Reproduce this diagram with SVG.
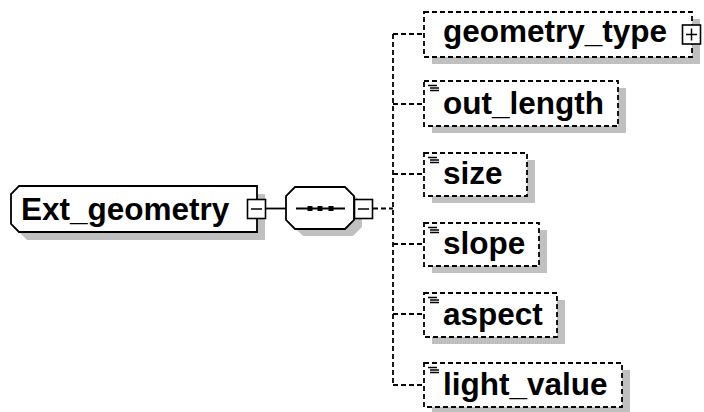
<svg xmlns="http://www.w3.org/2000/svg" width="704" height="412" viewBox="0 0 704 412">
<style>
.bg{fill:#ffffff}
.sh{fill:#c0c0c0;stroke:none}
.solid{fill:#ffffff;stroke:#000;stroke-width:1.8}
.dash{fill:#ffffff;stroke:#000;stroke-width:1.8;stroke-dasharray:5,3}
.ln{fill:none;stroke:#000;stroke-width:1.8}
.dln{fill:none;stroke:#000;stroke-width:1.8;stroke-dasharray:5,3}
.t{font-family:"Liberation Sans",Arial,sans-serif;font-weight:bold;font-size:31.5px;fill:#000}
.btn{fill:#ffffff;stroke:#000;stroke-width:1.6}
.ic{stroke:#000;stroke-width:1.5}
</style>
<rect class="bg" x="0" y="0" width="704" height="412"/>
<g id="connectors">
  <line class="ln" x1="266" y1="208.5" x2="286" y2="208.5"/>
  <line class="dln" x1="373" y1="208.5" x2="393" y2="208.5"/>
  <line class="dln" x1="393" y1="34" x2="393" y2="385"/>
  <line class="dln" x1="393" y1="34" x2="424" y2="34"/>
  <line class="dln" x1="393" y1="104" x2="424" y2="104"/>
  <line class="dln" x1="393" y1="174" x2="424" y2="174"/>
  <line class="dln" x1="393" y1="244" x2="424" y2="244"/>
  <line class="dln" x1="393" y1="314" x2="424" y2="314"/>
  <line class="dln" x1="393" y1="385" x2="424" y2="385"/>
</g>
<g id="Ext_geometry">
  <path class="sh" d="M27,194 H265 V240 H27 L19,232 V202 Z"/>
  <path class="solid" d="M19,186 H257 V232 H19 L11,224 V194 Z"/>
  <text class="t" x="21" y="220">Ext_geometry</text>
  <rect class="btn" x="247.5" y="199.5" width="18" height="19"/>
  <line class="ic" x1="251" y1="209" x2="262" y2="209"/>
</g>
<g id="sequence">
  <path class="sh" d="M303,194 H353 L362,203 V227 L353,236 H303 L294,227 V203 Z"/>
  <path class="solid" d="M295,187 H345 L354,196 V220 L345,229 H295 L286,220 V196 Z"/>
  <line class="ln" x1="296" y1="208.5" x2="345" y2="208.5"/>
  <rect x="307.5" y="206" width="5" height="5" fill="#000"/>
  <rect x="317.5" y="206" width="5" height="5" fill="#000"/>
  <rect x="328.5" y="206" width="5" height="5" fill="#000"/>
  <rect class="btn" x="354.5" y="199.5" width="18" height="19"/>
  <line class="ic" x1="358" y1="209" x2="369" y2="209"/>
</g>
<g id="geometry_type">
  <rect class="sh" x="432" y="19" width="268" height="45"/>
  <rect class="dash" x="424" y="12" width="268" height="45"/>
  <text class="t" x="443" y="42">geometry_type</text>
  <rect class="btn" x="682.5" y="25" width="18" height="19"/>
  <line class="ic" x1="686" y1="34.5" x2="697" y2="34.5"/>
  <line class="ic" x1="691.5" y1="28.5" x2="691.5" y2="40.5"/>
</g>
<g id="out_length">
  <rect class="sh" x="432" y="88" width="194" height="45"/>
  <rect class="dash" x="424" y="81" width="194" height="45"/>
  <path class="ic" d="M428,85.5 H437 M430,88 H439 M430,90.5 H439"/>
  <text class="t" x="443" y="114">out_length</text>
</g>
<g id="size">
  <rect class="sh" x="432" y="160" width="103" height="43"/>
  <rect class="dash" x="424" y="153" width="103" height="43"/>
  <path class="ic" d="M428,157.5 H437 M430,160 H439 M430,162.5 H439"/>
  <text class="t" x="443" y="184">size</text>
</g>
<g id="slope">
  <rect class="sh" x="432" y="230" width="115" height="43"/>
  <rect class="dash" x="424" y="223" width="115" height="43"/>
  <path class="ic" d="M428,227.5 H437 M430,230 H439 M430,232.5 H439"/>
  <text class="t" x="443" y="254">slope</text>
</g>
<g id="aspect">
  <rect class="sh" x="432" y="300" width="133" height="44"/>
  <rect class="dash" x="424" y="293" width="133" height="44"/>
  <path class="ic" d="M428,297.5 H437 M430,300 H439 M430,302.5 H439"/>
  <text class="t" x="443" y="325">aspect</text>
</g>
<g id="light_value">
  <rect class="sh" x="432" y="370" width="198" height="44"/>
  <rect class="dash" x="424" y="363" width="198" height="44"/>
  <path class="ic" d="M428,367.5 H437 M430,370 H439 M430,372.5 H439"/>
  <text class="t" x="443" y="395">light_value</text>
</g>
</svg>
